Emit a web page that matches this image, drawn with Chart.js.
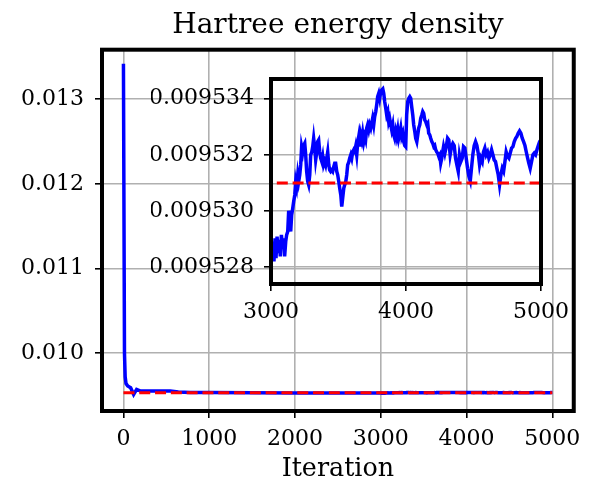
<!DOCTYPE html>
<html>
<head>
<meta charset="utf-8">
<title>Hartree energy density</title>
<script src="https://cdn.jsdelivr.net/npm/chart.js@4.4.1/dist/chart.umd.min.js"></script>
<style>
  html, body { margin: 0; padding: 0; background: #fff; }
  #wrap { position: relative; width: 589px; height: 487px; }
  #wrap canvas { position: absolute; left: 0; top: 0; }
</style>
</head>
<body>
<div id="wrap">
  <canvas id="mainChart" width="589" height="487"></canvas>
  <canvas id="insetChart" width="589" height="487"></canvas>
</div>
<script>
// Energy density per iteration: fast initial drop, then the converged tail
const earlyIter = [0, 12, 20, 30, 50, 84, 119, 154, 200, 315, 430, 546, 640, 780, 1000, 1500, 2000, 2500];
const earlyEnergy = [0.01342, 0.01000, 0.00972, 0.00964, 0.00961, 0.00959, 0.00951, 0.00957, 0.00955,
  0.00955, 0.00955, 0.00955, 0.00954, 0.009533, 0.009533, 0.009531, 0.009529, 0.009529];

const tailIter = [3000, 3007, 3015, 3022, 3030, 3037, 3045, 3052, 3062, 3069, 3077, 3087, 3094, 3101, 3109, 3116,
  3124, 3131, 3138, 3146, 3153, 3161, 3168, 3176, 3183, 3190, 3198, 3205, 3213, 3220, 3227, 3235, 3242, 3250,
  3257, 3264, 3272, 3279, 3287, 3294, 3302, 3309, 3316, 3324, 3331, 3339, 3346, 3353, 3361, 3368, 3376, 3383,
  3390, 3398, 3405, 3413, 3420, 3428, 3435, 3442, 3450, 3457, 3465, 3472, 3479, 3487, 3494, 3502, 3509, 3517,
  3524, 3531, 3539, 3546, 3554, 3561, 3568, 3576, 3583, 3591, 3598, 3605, 3613,
  3620, 3627, 3635, 3642, 3650, 3657, 3664, 3672, 3679, 3687, 3694, 3701, 3709, 3716, 3724, 3731, 3739, 3746,
  3753, 3761, 3768, 3776, 3783, 3790, 3798, 3805, 3813, 3820, 3828, 3835, 3842, 3850, 3857, 3865, 3872, 3879,
  3887, 3894, 3902, 3909, 3916, 3924, 3931, 3939, 3946, 3954, 3961, 3968, 3976, 3983, 3991, 3998, 4005, 4013,
  4020, 4028, 4035, 4042, 4050, 4057, 4065, 4072, 4080, 4087, 4094, 4102, 4109, 4117, 4124, 4131, 4139, 4146,
  4154, 4161, 4168, 4176, 4183, 4191, 4198, 4206, 4213, 4220, 4228, 4235, 4243, 4250, 4257, 4265,
  4268, 4278, 4288, 4298, 4308, 4317, 4327, 4337, 4347, 4357, 4367, 4377, 4387, 4396, 4406, 4416, 4426, 4436,
  4446, 4456, 4466, 4476, 4485, 4495, 4505, 4515, 4525, 4535, 4545, 4555, 4565, 4574, 4584, 4594, 4604, 4614,
  4624, 4634, 4644, 4653, 4663, 4673, 4683, 4693, 4703, 4713, 4723, 4733, 4742, 4752, 4762, 4772, 4782, 4792,
  4802, 4812, 4821, 4831, 4841, 4851, 4861, 4871, 4881, 4891, 4901, 4910, 4920, 4930, 4940, 4950, 4960, 4970,
  4980, 4990, 5000];
const tailEnergy = [0.00952868, 0.00952844, 0.00952891, 0.00952820, 0.00952903, 0.00952832, 0.00952909, 0.00952850,
  0.00952897, 0.00952838, 0.00952915, 0.00952868, 0.00952903, 0.00952838, 0.00952891, 0.00952915, 0.00952927,
  0.00953001, 0.00952963, 0.00952927, 0.00952986, 0.00953010, 0.00953034, 0.00953057, 0.00953105, 0.00953087,
  0.00953129, 0.00953105, 0.00953129, 0.00953164, 0.00953229, 0.00953210, 0.00953233, 0.00953241, 0.00953200,
  0.00953141, 0.00953105, 0.00953093, 0.00953129, 0.00953200, 0.00953210, 0.00953229, 0.00953259, 0.00953224,
  0.00953182, 0.00953210, 0.00953247, 0.00953253, 0.00953210, 0.00953188, 0.00953176, 0.00953194, 0.00953164,
  0.00953176, 0.00953164, 0.00953188, 0.00953210, 0.00953164, 0.00953146, 0.00953141, 0.00953146, 0.00953141,
  0.00953158, 0.00953170, 0.00953170, 0.00953141, 0.00953129, 0.00953105, 0.00953081, 0.00953057, 0.00953016,
  0.00953046, 0.00953081, 0.00953093, 0.00953105, 0.00953129, 0.00953164, 0.00953174, 0.00953188, 0.00953200,
  0.00953188, 0.00953210, 0.00953218,
  0.00953212, 0.00953229, 0.00953200, 0.00953241, 0.00953265, 0.00953229, 0.00953271, 0.00953253, 0.00953277,
  0.00953247, 0.00953265, 0.00953253, 0.00953295, 0.00953307, 0.00953289, 0.00953307, 0.00953295, 0.00953312,
  0.00953330, 0.00953307, 0.00953336, 0.00953354, 0.00953378, 0.00953407, 0.00953419, 0.00953401, 0.00953425,
  0.00953431, 0.00953435, 0.00953419, 0.00953390, 0.00953366, 0.00953342, 0.00953354, 0.00953318, 0.00953330,
  0.00953307, 0.00953289, 0.00953307, 0.00953271, 0.00953259, 0.00953283, 0.00953265, 0.00953289, 0.00953259,
  0.00953277, 0.00953295, 0.00953265, 0.00953277, 0.00953247, 0.00953233, 0.00953229, 0.00953342, 0.00953390,
  0.00953401, 0.00953407, 0.00953401, 0.00953372, 0.00953342, 0.00953307, 0.00953283, 0.00953259, 0.00953247,
  0.00953271, 0.00953295, 0.00953307, 0.00953330, 0.00953342, 0.00953354, 0.00953348, 0.00953324, 0.00953318,
  0.00953307, 0.00953312, 0.00953277, 0.00953271, 0.00953259, 0.00953247, 0.00953241, 0.00953229, 0.00953233,
  0.00953218, 0.00953210, 0.00953206, 0.00953194, 0.00953200, 0.00953170, 0.00953188,
  0.00953200, 0.00953229, 0.00953206, 0.00953229, 0.00953259, 0.00953253, 0.00953200, 0.00953229, 0.00953241,
  0.00953233, 0.00953188, 0.00953164, 0.00953141, 0.00953200, 0.00953176, 0.00953188, 0.00953229, 0.00953224,
  0.00953188, 0.00953152, 0.00953123, 0.00953107, 0.00953152, 0.00953200, 0.00953233, 0.00953247, 0.00953233,
  0.00953206, 0.00953164, 0.00953188, 0.00953176, 0.00953210, 0.00953224, 0.00953200, 0.00953210, 0.00953188,
  0.00953200, 0.00953218, 0.00953200, 0.00953182, 0.00953176, 0.00953152, 0.00953129, 0.00953093, 0.00953129,
  0.00953152, 0.00953141, 0.00953176, 0.00953210, 0.00953194, 0.00953188, 0.00953206, 0.00953224, 0.00953229,
  0.00953247, 0.00953259, 0.00953265, 0.00953277, 0.00953285, 0.00953277, 0.00953259, 0.00953247, 0.00953233,
  0.00953210, 0.00953188, 0.00953170, 0.00953152, 0.00953176, 0.00953200, 0.00953206, 0.00953200, 0.00953218,
  0.00953233, 0.00953247, 0.00953253];

const referenceEnergy = 0.009531;
const refIter = [0, 5000];

const mainXTicks = [0, 1000, 2000, 3000, 4000, 5000];
const mainYTicks = [0.010, 0.011, 0.012, 0.013];
const insetXTicks = [3000, 4000, 5000];
const insetYTicks = [0.009528, 0.009530, 0.009532, 0.009534];

const toPoints = (xs, ys) => xs.map((x, i) => ({ x: x, y: ys[i] }));
const allIter = earlyIter.concat(tailIter);
const allEnergy = earlyEnergy.concat(tailEnergy);
const refLine = refIter.map(x => ({ x: x, y: referenceEnergy }));

const SERIF = "'DejaVu Serif', serif";
Chart.defaults.font.family = SERIF;
Chart.defaults.color = '#000';

// black box round the plot area (all four sides)
const framePlugin = {
  id: 'frame',
  afterDraw(chart) {
    const { ctx, chartArea: a } = chart;
    ctx.save();
    ctx.strokeStyle = '#000';
    ctx.lineWidth = 4;
    ctx.strokeRect(a.left, a.top, a.right - a.left, a.bottom - a.top);
    ctx.restore();
  }
};

function fixedTicks(values) {
  return scale => { scale.ticks = values.map(v => ({ value: v })); };
}

function axis(min, max, ticks, digits, pad, extra) {
  return Object.assign({
    type: 'linear',
    min: min,
    max: max,
    afterBuildTicks: fixedTicks(ticks),
    border: { display: false },
    grid: { color: '#b0b0b0', lineWidth: 1.6, tickLength: 7, tickWidth: 1.6, tickColor: '#000' },
    ticks: {
      autoSkip: false,
      maxRotation: 0,
      padding: pad,
      font: { size: 22 },
      callback: v => digits === 0 ? String(v) : v.toFixed(digits)
    }
  }, extra);
}

function lineSets(points, blueWidth) {
  return [
    { data: refLine, borderColor: '#ff0000', borderWidth: 3, borderDash: [11, 4.8], pointRadius: 0, order: 0 },
    { data: points, borderColor: '#0000ff', borderWidth: blueWidth, pointRadius: 0, order: 1 }
  ];
}

const common = {
  responsive: false,
  animation: false,
  devicePixelRatio: 1,
  events: [],
  parsing: false,
  elements: { line: { tension: 0, fill: false } }
};

// Main chart: the whole run
new Chart(document.getElementById('mainChart'), {
  type: 'line',
  data: { datasets: lineSets(toPoints(allIter, allEnergy), 3.5) },
  options: Object.assign({}, common, {
    layout: { padding: { left: 0, right: 12, top: 0, bottom: 0 } },
    plugins: {
      legend: { display: false },
      tooltip: { enabled: false },
      title: {
        display: true,
        fullSize: false,
        text: 'Hartree energy density',
        color: '#000',
        font: { size: 28, weight: 'normal', lineHeight: 1.2 },
        padding: { top: 9, bottom: 7.1 }
      }
    },
    scales: {
      x: axis(-250, 5250, mainXTicks, 0, 8, {
        afterFit: s => { s.height = 76; },
        title: { display: true, text: 'Iteration', font: { size: 25.4 }, padding: { top: 0, bottom: 2 } }
      }),
      y: axis(0.009315, 0.013586, mainYTicks, 3, 11, {
        afterFit: s => { s.width = 102; }
      })
    }
  }),
  plugins: [framePlugin]
});

// Inset: zoom on the last 2000 iterations
new Chart(document.getElementById('insetChart'), {
  type: 'line',
  data: { datasets: lineSets(toPoints(tailIter, tailEnergy), 3.5) },
  options: Object.assign({}, common, {
    layout: { padding: { left: 151, right: 48, top: 79, bottom: 158 } },
    plugins: {
      legend: { display: false },
      tooltip: { enabled: false },
      title: { display: false }
    },
    scales: {
      x: axis(3000, 5000, insetXTicks, 0, 8, {
        afterFit: s => { s.height = 45; }
      }),
      y: axis(0.0095274, 0.0095347, insetYTicks, 6, 10, {
        afterFit: s => { s.width = 120; }
      })
    }
  }),
  plugins: [framePlugin]
});
</script>
</body>
</html>
